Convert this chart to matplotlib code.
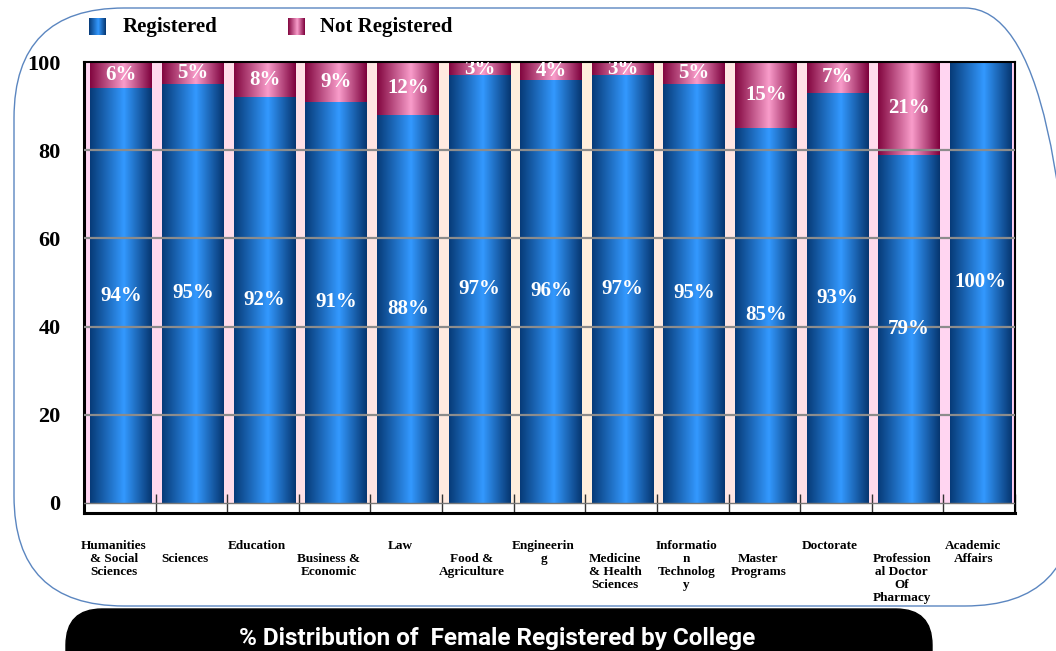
import numpy as np
import matplotlib.pyplot as plt
from matplotlib.colors import LinearSegmentedColormap
from matplotlib.patches import FancyBboxPatch

# data
colleges = ["Humanities\n& Social\nSciences", "Sciences", "Education", "Business &\nEconomic",
            "Law", "Food &\nAgriculture", "Engineerin\ng", "Medicine\n& Health\nSciences",
            "Informatio\nn\nTechnolog\ny", "Master\nPrograms", "Doctorate",
            "Profession\nal Doctor\nOf\nPharmacy", "Academic\nAffairs"]
registered = [94, 95, 92, 91, 88, 97, 96, 97, 95, 85, 93, 79, 100]
not_registered = [6, 5, 8, 9, 12, 3, 4, 3, 5, 15, 7, 21, 0]
yticks = [0, 20, 40, 60, 80, 100]

W, H = 1056, 651
fig = plt.figure(figsize=(W / 100, H / 100), dpi=100)
serif = "Liberation Serif"
inch = fig.dpi_scale_trans

blue = LinearSegmentedColormap.from_list("b", [(0, "#073b78"), (0.55, "#3399ff"), (1, "#063670")])
pink = LinearSegmentedColormap.from_list("p", [(0, "#82063f"), (0.55, "#f99dcb"), (1, "#7d003c")])
grad = np.linspace(0, 1, 128)[None, :]

# rounded outer frame and black title pill (in inches)
fig.patches.append(FancyBboxPatch((0.14, 0.45), 10.75 - 0.14, 6.43 - 0.45,
                                  boxstyle="round,pad=0,rounding_size=1.1", transform=inch,
                                  fc="none", ec="#5b86c0", lw=1.0))
fig.patches.append(FancyBboxPatch((0.66, -0.4), 9.32 - 0.66, 0.42 + 0.4,
                                  boxstyle="round,pad=0,rounding_size=0.36", transform=inch,
                                  fc="black", ec="black"))
fig.text(497 / W, 1 - 638 / H, "% Distribution of  Female Registered by College", color="white",
         fontsize=17.5, fontweight="bold", family="Roboto", ha="center", va="center")

ax = fig.add_axes([84 / W, 1 - 513 / H, (1015 - 84) / W, (513 - 62) / H])
n = len(colleges)
x = np.arange(n)
ax.set_xlim(-0.5, n - 0.5)
ax.set_ylim(-2.3, 100)

# background gradient pink -> cream -> pink
bg = LinearSegmentedColormap.from_list("bg", ["#ffd6f2", "#ffe2e6", "#fff2dc", "#ffe3e6", "#ffd0f6"])
ax.imshow(np.linspace(0, 1, 256)[None, :], cmap=bg, aspect="auto",
          extent=(-0.5, n - 0.5, 0, 100), zorder=0)

bw = 0.86
b1 = ax.bar(x + 0.02, registered, width=bw, color="none", zorder=2)
b2 = ax.bar(x + 0.02, not_registered, width=bw, bottom=registered, color="none", zorder=2)
for bars, cm in [(b1, blue), (b2, pink)]:
    for p in bars:
        if p.get_height() <= 0:
            continue
        x0, y0 = p.get_x(), p.get_y()
        im = ax.imshow(grad, cmap=cm, aspect="auto", zorder=2,
                       extent=(x0, x0 + p.get_width(), y0, y0 + p.get_height()))
        im.set_clip_path(p)

# grid over bars
for yv in yticks[1:-1]:
    ax.axhline(yv, color="#8c8c8c", lw=1.6, zorder=3)
ax.axhline(0, color="#777777", lw=1.0, zorder=3)

# value labels
for i in range(n):
    ax.text(x[i] + 0.02, registered[i] / 2, f"{registered[i]}%", color="white", fontsize=15,
            fontweight="bold", family=serif, ha="center", va="center", zorder=4)
    if not_registered[i] > 0:
        ax.text(x[i] + 0.02, registered[i] + not_registered[i] / 2, f"{not_registered[i]}%",
                color="white", fontsize=15, fontweight="bold", family=serif,
                ha="center", va="center", zorder=4, clip_on=True)

# axes styling
for s in ax.spines.values():
    s.set_color("black")
    s.set_linewidth(1.5)
ax.spines["left"].set_linewidth(2.2)
ax.spines["bottom"].set_linewidth(2.2)
ax.set_yticks(yticks)
ax.set_yticklabels([str(v) for v in yticks], fontsize=16, fontweight="bold", family=serif)
ax.tick_params(axis="y", length=0, pad=17)
ax.set_xticks([])
ax.set_xticks(np.arange(n + 1) - 0.5, minor=True)
ax.tick_params(axis="x", which="minor", direction="in", length=14, width=1.0, color="#333333")

# staggered category labels
for i in range(n):
    dy = -27 if i % 2 == 0 else -40
    ax.annotate(colleges[i], xy=(x[i], 0), xycoords=("data", "axes fraction"),
                xytext=(-6, dy), textcoords="offset pixels", ha="center", va="top",
                fontsize=9.5, fontweight="bold", family=serif, linespacing=1.1,
                annotation_clip=False)

# legend with gradient swatches
for lx, cm in [(89, blue), (288, pink)]:
    sw = fig.add_axes([lx / W, 1 - 35 / H, 17 / W, 17 / H])
    sw.imshow(grad, cmap=cm, aspect="auto")
    sw.axis("off")
fig.text(123 / W, 1 - 27 / H, "Registered", fontsize=15, fontweight="bold", family=serif, va="center")
fig.text(320 / W, 1 - 27 / H, "Not Registered", fontsize=15, fontweight="bold", family=serif, va="center")

fig.savefig("out.png", dpi=100)
